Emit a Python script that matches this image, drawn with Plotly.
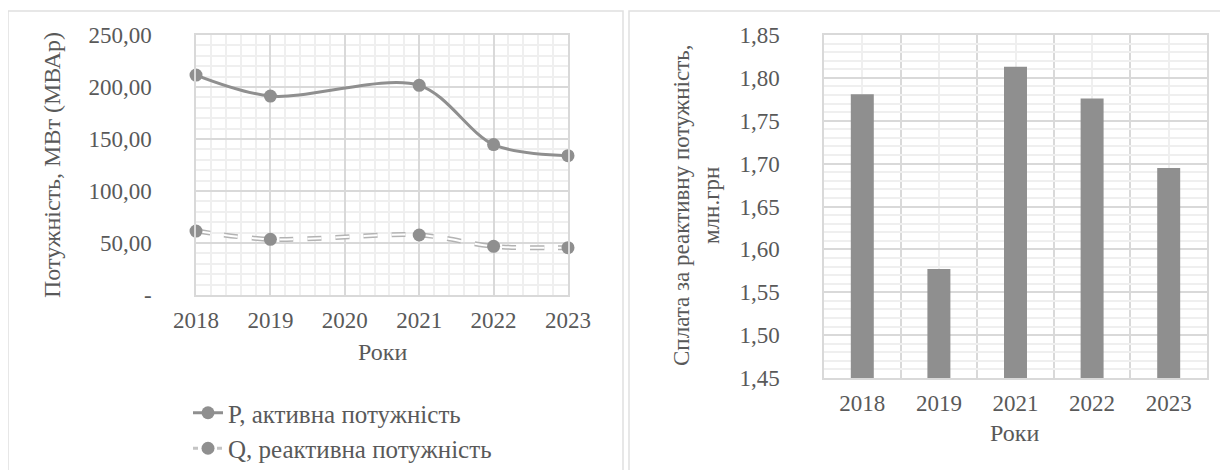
import plotly.graph_objects as go

# ---- data ----
line_years = [2018, 2019, 2021, 2022, 2023]
p_active = [211.5, 191.3, 201.6, 144.6, 134.0]
q_reactive = [61.5, 53.5, 57.7, 46.8, 45.5]
left_ticks = [0, 50, 100, 150, 200, 250]
left_ticktext = ["-", "50,00", "100,00", "150,00", "200,00", "250,00"]
x_years_ticks = [2018, 2019, 2020, 2021, 2022, 2023]

bar_years = ["2018", "2019", "2021", "2022", "2023"]
payment = [1.781, 1.577, 1.813, 1.776, 1.695]
right_ticks = [1.45, 1.50, 1.55, 1.60, 1.65, 1.70, 1.75, 1.80, 1.85]
right_ticktext = ["1,45", "1,50", "1,55", "1,60", "1,65", "1,70", "1,75", "1,80", "1,85"]

OFF = 8  # page body margin
W, H = 1228 - OFF, 470 - OFF
FONT = "Liberation Serif"
TXT = "#595959"
GRID = "#d9d9d9"
MINOR = "#efefef"
GRAY = "#8f8f8f"
FS = 23

def px(x):
    return (x - OFF) / W

def py(y):
    return 1 - (y - OFF) / H

fig = go.Figure()

# P line
fig.add_trace(go.Scatter(
    x=line_years, y=p_active, mode="lines+markers", name="P, активна потужність",
    line=dict(color=GRAY, width=3, shape="spline", smoothing=0.9),
    marker=dict(color=GRAY, size=13), xaxis="x", yaxis="y",
    legendgroup="p", cliponaxis=False,
))
# Q line (outlined dashes)
fig.add_trace(go.Scatter(
    x=line_years, y=q_reactive, mode="lines", name="Q, реактивна потужність",
    line=dict(color="#b3b3b3", width=5, shape="spline", smoothing=0.9, dash="14px,14px"),
    xaxis="x", yaxis="y", legendgroup="q", showlegend=False, cliponaxis=False,
))
fig.add_trace(go.Scatter(
    x=line_years, y=q_reactive, mode="lines", name="Q, реактивна потужність",
    line=dict(color="white", width=2, shape="spline", smoothing=0.9, dash="14px,14px"),
    xaxis="x", yaxis="y", legendgroup="q", showlegend=False, cliponaxis=False,
))
fig.add_trace(go.Scatter(
    x=line_years, y=q_reactive, mode="markers", name="Q, реактивна потужність",
    marker=dict(color=GRAY, size=13),
    xaxis="x", yaxis="y", legendgroup="q", showlegend=False, cliponaxis=False,
))
# legend proxy for Q
fig.add_trace(go.Scatter(
    x=[None], y=[None], mode="lines+markers", name="Q, реактивна потужність",
    line=dict(color="#c4c4c4", width=3, dash="5px,7px"),
    marker=dict(color=GRAY, size=13), xaxis="x", yaxis="y", legendgroup="q",
))

# bars
fig.add_trace(go.Bar(
    x=list(range(len(bar_years))), y=payment, width=0.3,
    marker=dict(color=GRAY, line=dict(width=0)), xaxis="x2", yaxis="y2",
    showlegend=False,
))

axis_font = dict(family=FONT, size=FS, color=TXT)

fig.update_layout(
    template="none",
    width=W, height=H, margin=dict(l=0, r=0, t=0, b=0, pad=0, autoexpand=False),
    paper_bgcolor="white", plot_bgcolor="white",
    font=dict(family=FONT, size=FS, color=TXT),
    showlegend=True,
    legend=dict(x=px(188), y=py(390), xanchor="left", yanchor="top",
                font=dict(family=FONT, size=25, color=TXT),
                traceorder="grouped", tracegroupgap=0, bgcolor="rgba(0,0,0,0)",
                borderwidth=0),
    xaxis=dict(domain=[px(196), px(568)], range=[2018, 2023], anchor="y", automargin=False,
               tickmode="array", tickvals=x_years_ticks,
               ticktext=[str(v) for v in x_years_ticks],
               showgrid=True, gridcolor=GRID, gridwidth=1.5,
               minor=dict(dtick=0.2, tick0=2018, showgrid=True, gridcolor=MINOR, gridwidth=1.5, ticks=""),
               showline=True, linecolor=GRID, linewidth=1.5, mirror=True,
               zeroline=False, ticks="", tickfont=axis_font, ticklabelstandoff=4),
    yaxis=dict(domain=[py(295), py(35)], range=[0, 250], anchor="x", automargin=False,
               tickmode="array", tickvals=left_ticks, ticktext=left_ticktext,
               showgrid=True, gridcolor=GRID, gridwidth=1.5,
               minor=dict(dtick=10, tick0=0, showgrid=True, gridcolor=MINOR, gridwidth=1.5, ticks=""),
               showline=True, linecolor=GRID, linewidth=1.5, mirror=True,
               zeroline=False, ticks="", tickfont=axis_font, ticklabelstandoff=38),
    xaxis2=dict(domain=[px(824), px(1207)], range=[-0.5, len(bar_years) - 0.5], anchor="y2",
                automargin=False,
                tickmode="array", tickvals=list(range(len(bar_years))), ticktext=bar_years,
                showgrid=True, gridcolor=MINOR, gridwidth=2,
                minor=dict(tickmode="array", tickvals=[i - 0.5 for i in range(len(bar_years) + 1)],
                           showgrid=True, gridcolor=GRID, gridwidth=1.5, ticks=""),
                showline=True, linecolor=GRID, linewidth=1.5, mirror=True,
                zeroline=False, ticks="", tickfont=axis_font, ticklabelstandoff=4),
    yaxis2=dict(domain=[py(378), py(35)], range=[1.45, 1.85], anchor="x2", automargin=False,
                tickmode="array", tickvals=right_ticks, ticktext=right_ticktext,
                showgrid=True, gridcolor=GRID, gridwidth=1.5,
                minor=dict(dtick=0.01, tick0=1.45, showgrid=True, gridcolor=MINOR, gridwidth=1.5, ticks=""),
                showline=True, linecolor=GRID, linewidth=1.5, mirror=True,
                zeroline=False, ticks="", tickfont=axis_font, ticklabelstandoff=38),
    barmode="overlay",
)

# axis titles as annotations
fig.add_annotation(text="Потужність, МВт (МВАр)", x=px(52), y=py(165), xref="paper", yref="paper",
                   textangle=-90, showarrow=False, font=dict(family=FONT, size=FS + 1, color=TXT),
                   xanchor="center", yanchor="middle")
fig.add_annotation(text="Роки", x=px(382), y=py(352), xref="paper", yref="paper",
                   showarrow=False, font=dict(family=FONT, size=FS + 1, color=TXT),
                   xanchor="center", yanchor="middle")
fig.add_annotation(text="Сплата за реактивну потужність,<br>млн.грн", x=px(696), y=py(206),
                   xref="paper", yref="paper", textangle=-90, showarrow=False,
                   font=dict(family=FONT, size=FS, color=TXT), xanchor="center", yanchor="middle")
fig.add_annotation(text="Роки", x=px(1015), y=py(433), xref="paper", yref="paper",
                   showarrow=False, font=dict(family=FONT, size=FS + 1, color=TXT),
                   xanchor="center", yanchor="middle")

# chart frames
fig.add_shape(type="rect", xref="paper", yref="paper", x0=px(8), x1=px(623), y0=py(478), y1=py(11),
              line=dict(color="#e0e0e0", width=1.5), fillcolor="rgba(0,0,0,0)", layer="below")
fig.add_shape(type="rect", xref="paper", yref="paper", x0=px(629), x1=px(1236), y0=py(478), y1=py(11),
              line=dict(color="#e0e0e0", width=1.5), fillcolor="rgba(0,0,0,0)", layer="below")

fig.write_html("out.html")
